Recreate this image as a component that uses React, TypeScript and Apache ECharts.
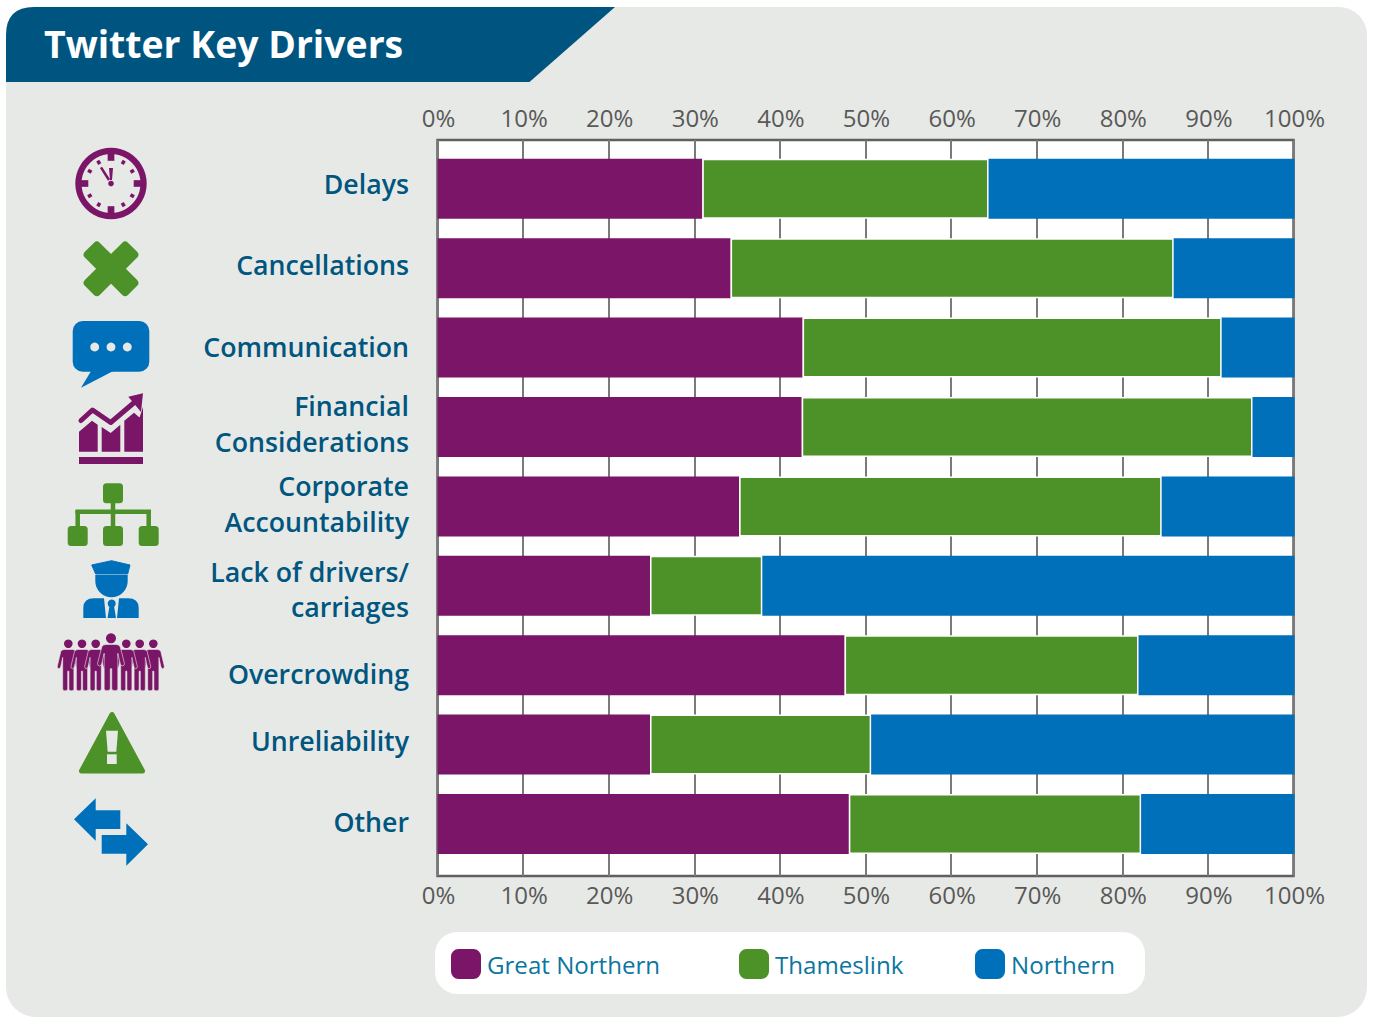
import React, { useEffect, useRef } from "react";
import * as echarts from "echarts";

const categories = ["Delays", "Cancellations", "Communication", "Financial\nConsiderations", "Corporate\nAccountability", "Lack of drivers/\ncarriages", "Overcrowding", "Unreliability", "Other"];
const greatNorthern = [30.9, 34.2, 42.6, 42.5, 35.2, 24.8, 47.5, 24.8, 48.0];
const thameslink = [33.4, 51.7, 48.9, 52.6, 49.3, 13.1, 34.3, 25.8, 34.1];
const northern = [35.7, 14.1, 8.5, 4.9, 15.5, 62.1, 18.2, 49.4, 17.9];
const labelNudge = [-5.5, -4, -1.4, -3.7, -2.6, 3.2, 7.9, -4.4, -2.8];

const PURPLE = "#7a1568";
const GREEN = "#4c9229";
const BLUE = "#0070ba";
const PANEL = "#e7e9e6";
const NAVY = "#00567f";
const FONT = "'Open Sans', sans-serif";

const bannerPath = "M0 75 L0 28 Q0 0 28 0 L609 0 L523.5 75 Z";
const personPath = "M-4 0 L4 0 Q6.5 0 7.5 2 L11 17 Q11.3 19.5 9.3 19.5 Q8 19.5 7.5 17 L5.6 8 L5.6 40 Q5.6 42 3.4 42 Q0.6 42 0.6 40 L0.6 22 L-0.6 22 L-0.6 40 Q-0.6 42 -3.4 42 Q-5.6 42 -5.6 40 L-5.6 8 L-7.5 17 Q-8 19.5 -9.3 19.5 Q-11.3 19.5 -11 17 L-7.5 2 Q-6.5 0 -4 0 Z";
const driverBodyPath = "M83.3 618 L83.3 608 Q83.3 598.3 94 598.3 L104 598.3 L106 618 Z M138.7 618 L138.7 608 Q138.7 598.3 128 598.3 L119 598.3 L117 618 Z";
const driverHeadPath = "M95.3 575 L127.7 575 L127.7 581 A16.2 16.2 0 0 1 95.3 581 Z";
echarts.graphic.registerShape("bannerShape", echarts.graphic.extendPath(bannerPath, {}));
echarts.graphic.registerShape("personShape", echarts.graphic.extendPath(personPath, {}));
echarts.graphic.registerShape("driverBody", echarts.graphic.extendPath(driverBodyPath, {}));
echarts.graphic.registerShape("driverHead", echarts.graphic.extendPath(driverHeadPath, {}));

const z = 3;
const poly = (points: number[][], fill: string, extra: any = {}) => ({ type: "polygon", z, shape: { points }, style: { fill, ...extra } });
const box = (x: number, y: number, w: number, h: number, fill: string, r: any = 0) => ({ type: "rect", z, shape: { x, y, width: w, height: h, r }, style: { fill } });
const dot = (cx: number, cy: number, r: number, fill: string) => ({ type: "circle", z, shape: { cx, cy, r }, style: { fill } });
const seg = (x1: number, y1: number, x2: number, y2: number, stroke: string, lineWidth: number, lineCap = "butt") => ({ type: "line", z, shape: { x1, y1, x2, y2 }, style: { stroke, lineWidth, lineCap } });

function clockIcon() {
  const cx = 111, cy = 183.5;
  const items: any[] = [{ type: "ring", z, shape: { cx, cy, r: 35.7, r0: 29.5 }, style: { fill: PURPLE } }];
  for (let h = 0; h < 12; h++) {
    const a = (h * Math.PI) / 6;
    const major = h % 3 === 0;
    const r1 = major ? 30 : 26.5;
    const r2 = major ? 22.7 : 22.5;
    items.push(seg(cx + r1 * Math.sin(a), cy - r1 * Math.cos(a), cx + r2 * Math.sin(a), cy - r2 * Math.cos(a), PURPLE, major ? 6.7 : 3.5));
  }
  items.push(poly([[109, 168], [113, 168], [112, 180], [110, 180]], PURPLE));
  items.push(seg(101, 167.3, 109, 180, PURPLE, 2.5));
  items.push(dot(cx, cy, 2.8, PURPLE));
  return items;
}

function crossIcon() {
  const arm = (rotation: number) => ({ type: "group", x: 111, y: 268.8, rotation, children: [{ type: "rect", z, shape: { x: -30.5, y: -10.5, width: 61, height: 21, r: 4 }, style: { fill: GREEN } }] });
  return [arm(Math.PI / 4), arm(-Math.PI / 4)];
}

function bubbleIcon() {
  return [
    box(72.7, 321, 76.6, 50.7, BLUE, 10),
    poly([[91.7, 370], [81, 387.7], [113.3, 371]], BLUE),
    dot(94.7, 347, 4.4, PANEL),
    dot(111, 347, 4.4, PANEL),
    dot(127.3, 347, 4.4, PANEL),
  ];
}

function financeIcon() {
  return [
    box(79, 457, 64, 7, PURPLE),
    poly([[79, 451.7], [79, 431.7], [92, 420.8], [97.7, 424.7], [97.7, 451.7]], PURPLE),
    poly([[101.7, 451.7], [101.7, 427], [110.7, 433], [120.3, 424.7], [120.3, 451.7]], PURPLE),
    poly([[124.3, 451.7], [124.3, 420.7], [134, 412.7], [139.5, 417.5], [143, 407], [143, 451.7]], PURPLE),
    { type: "polyline", z, shape: { points: [[81, 420.5], [92.5, 410], [110.7, 422.5], [136, 401]] }, style: { stroke: PURPLE, lineWidth: 5, fill: "none", lineCap: "round", lineJoin: "round" } },
    poly([[128.3, 396.7], [143, 393.3], [141, 412]], PURPLE),
  ];
}

function orgIcon() {
  return [
    seg(113, 503, 113, 526, GREEN, 4.5),
    seg(75.5, 511.7, 151, 511.7, GREEN, 4.5),
    seg(77.7, 510, 77.7, 526, GREEN, 4.5),
    seg(148.7, 510, 148.7, 526, GREEN, 4.5),
    box(103, 483.3, 20, 20, GREEN, 3.5),
    box(67.7, 526, 20, 20, GREEN, 3.5),
    box(103, 526, 20, 20, GREEN, 3.5),
    box(138.7, 526, 20, 20, GREEN, 3.5),
  ];
}

function driverIcon() {
  return [
    poly([[91.7, 565], [111.5, 560.7], [130, 565], [127.7, 574], [95.7, 574]], BLUE, { stroke: BLUE, lineWidth: 1, lineJoin: "round" }),
    { type: "driverHead", z, style: { fill: BLUE } },
    { type: "driverBody", z, style: { fill: BLUE } },
    dot(111.7, 603.5, 4, BLUE),
    poly([[109.5, 606], [114, 606], [116, 618], [107.5, 618]], BLUE),
  ];
}

function crowdIcon() {
  const person = (x: number, top: number, s: number, sy: number) => ({ type: "personShape", z, x, y: top, scaleX: s, scaleY: sy, style: { fill: PURPLE, stroke: PANEL, lineWidth: 0.6, strokeNoScale: true } });
  const items: any[] = [];
  [68.3, 153.3, 82, 139.7, 95.7, 126.3].forEach((x) => {
    items.push(person(x, 649.5, 1, 0.985));
    items.push(dot(x, 643.7, 4.3, PURPLE));
  });
  items.push(person(111, 644.5, 1.22, 1.1));
  items.push(dot(111, 638.3, 5, PURPLE));
  return items;
}

function warningIcon() {
  return [
    poly([[112, 714.5], [81.5, 771], [142.5, 771]], GREEN, { stroke: GREEN, lineWidth: 5, lineJoin: "round" }),
    poly([[106, 730.7], [118, 730.7], [116.3, 751.7], [107.7, 751.7]], PANEL),
    box(107, 754.3, 9.7, 9.7, PANEL),
  ];
}

function arrowsIcon() {
  return [
    poly([[74, 819.3], [95.7, 798.3], [95.7, 810.3], [120.3, 810.3], [120.3, 829], [95.7, 829], [95.7, 840.7]], BLUE),
    poly([[148, 844.3], [126.3, 823.3], [126.3, 835], [101.7, 835], [101.7, 853.7], [126.3, 853.7], [126.3, 865.7]], BLUE),
  ];
}

function legendAt(name: string, left: number) {
  return {
    data: [{ name, icon: "roundRect", itemStyle: { borderWidth: 0 } }],
    left,
    top: 949,
    padding: 0,
    itemWidth: 30,
    itemHeight: 30,
    selectedMode: false,
    textStyle: { fontFamily: FONT, fontSize: 24.1, color: "#0b76a0", padding: [0, 0, 0, 1] },
  };
}

export default function App() {
  const ref = useRef<HTMLDivElement>(null);
  useEffect(() => {
    document.body.style.margin = "0";
    const chart = echarts.init(ref.current!, undefined, { renderer: "svg" });
    const tickFont = { fontFamily: FONT, fontSize: 24, color: "#595959" };
    const tickLabel = {
      show: true, ...tickFont,
      formatter: (v: number) => `{t|${v}%}`,
      rich: { t: { ...tickFont, padding: [0, 0, 0, 2] } },
    };
    const bar = (name: string, data: number[], color: string, border: any = {}) => ({
      name, type: "bar", stack: "drivers", xAxisIndex: 2, yAxisIndex: 1, barWidth: 60, data,
      itemStyle: { color, ...border },
    });
    const labelFont = { fontFamily: FONT, fontWeight: 600, fontSize: 26.74, color: NAVY, lineHeight: 36 };
    const rich: Record<string, any> = {};
    labelNudge.forEach((d, i) => {
      rich["r" + i] = { ...labelFont, padding: [Math.max(0, 2 * d), 0, Math.max(0, -2 * d), 0] };
    });
    chart.setOption({
      animation: false,
      title: { text: "Twitter Key Drivers", left: 44, top: 25, padding: 0, textStyle: { fontFamily: FONT, fontWeight: 700, fontSize: 37.4, color: "#ffffff" } },
      legend: [legendAt("Great Northern", 451), legendAt("Thameslink", 739), legendAt("Northern", 975)],
      grid: [
        { left: 437.5, top: 140, width: 856, height: 736, show: true, backgroundColor: "#ffffff", borderColor: "#5f5f5f", borderWidth: 2.5 },
        { left: 437.5, top: 149.1, width: 857, height: 714.6 },
      ],
      xAxis: [
        { gridIndex: 0, type: "value", position: "top", min: 0, max: 100, interval: 10, axisLine: { show: false }, axisTick: { show: false }, axisLabel: { ...tickLabel, margin: 11 }, splitLine: { show: true, lineStyle: { color: "#7a7a7a", width: 2 } } },
        { gridIndex: 0, type: "value", position: "bottom", min: 0, max: 100, interval: 10, axisLine: { show: false }, axisTick: { show: false }, axisLabel: { ...tickLabel, margin: 6 }, splitLine: { show: false } },
        { gridIndex: 1, type: "value", min: 0, max: 100, show: false },
      ],
      yAxis: [
        { gridIndex: 0, type: "value", show: false },
        {
          gridIndex: 1, type: "category", inverse: true, data: categories,
          axisLine: { show: false }, axisTick: { show: false },
          axisLabel: {
            ...labelFont, margin: 28.5, align: "right", interval: 0, rich,
            formatter: (value: string, i: number) => value.split("\n").map((l) => `{r${i}|${l}}`).join("\n"),
          },
        },
      ],
      series: [
        bar("Great Northern", greatNorthern, PURPLE),
        bar("Thameslink", thameslink, GREEN, { borderColor: "#ffffff", borderWidth: 1.5 }),
        bar("Northern", northern, BLUE),
      ],
      graphic: [
        { type: "rect", z: -10, shape: { x: 6, y: 7, width: 1361, height: 1010, r: [28, 28, 30, 30] }, style: { fill: PANEL } },
        { type: "bannerShape", z: -9, x: 6, y: 7, style: { fill: "#005580" } },
        { type: "rect", z: 1, shape: { x: 435, y: 932, width: 710, height: 62, r: 22 }, style: { fill: "#ffffff" } },
        ...clockIcon(), ...crossIcon(), ...bubbleIcon(), ...financeIcon(), ...orgIcon(),
        ...driverIcon(), ...crowdIcon(), ...warningIcon(), ...arrowsIcon(),
      ],
    });
    return () => chart.dispose();
  }, []);
  return <div ref={ref} style={{ width: 1373, height: 1017 }} />;
}
